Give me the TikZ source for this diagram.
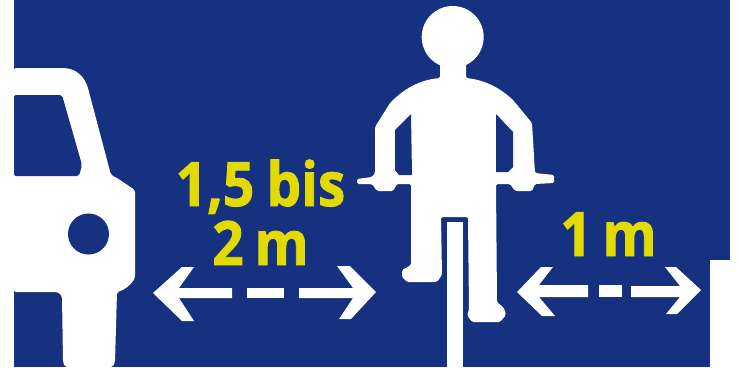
\documentclass[tikz,border=0pt]{standalone}
\usepackage{fontspec}
\setmainfont{Open Sans}[BoldFont={Open Sans Bold},BoldFeatures={FakeStretch=0.9,FakeBold=1.5}]
\definecolor{signblue}{HTML}{15317F}
\definecolor{signyellow}{HTML}{E2DA00}
\tikzset{
  wh/.style={fill=white,draw=none},
  bl/.style={fill=signblue,draw=none},
  lab/.style={text=signyellow,font=\bfseries\fontsize{61}{61}\selectfont,inner sep=0pt,anchor=base}
}
\begin{document}
\begin{tikzpicture}[x=1pt,y=-1pt]
\useasboundingbox (0,0) rectangle (739,367);
\fill[white] (0,0) rectangle (739,367);
\fill[signblue] (14,0) rectangle (730,367);
\fill[white] (710,260) rectangle (730,367);
% car
\path[wh,rounded corners=2pt] (14,68) -- (60,68) .. controls (76,68) and (85,76) .. (89,92) -- (111,175) -- (117,178) -- (135,190) -- (135,278) .. controls (130,286) and (124,290) .. (117,292) -- (115,362) -- (113,367) -- (65,367) -- (63,362) -- (62,296) -- (58,292) -- (14,292) -- cycle;
\path[bl,rounded corners=2pt] (14,95) -- (62,95) -- (82,165) -- (79,176) -- (14,176) -- cycle;
\path[bl] (88.5,234) circle (20.5);
% cyclist
\path[wh] (452.7,37) circle (31);
\path[wh,rounded corners=1.5pt] (440,55) -- (440,78) .. controls (420,80) and (405,88) .. (390,103) -- (375,127) -- (375,173) -- (372,177) -- (357,179) -- (357,184) -- (372,184) -- (377,191) -- (393,191) -- (397,184) -- (411,184) -- (411,265) -- (402,270) -- (402,277) -- (407,282) -- (437,282) -- (442,275) -- (441,217) -- (468,217) -- (469,310) -- (467,315) -- (472,322) -- (500,322) -- (506,315) -- (504,308) -- (497,302) -- (496,184) -- (510,184) -- (515,191) -- (532,191) -- (535,184) -- (554,183) -- (554,175) -- (535,173) -- (532,123) -- (513,100) .. controls (500,88) and (485,80) .. (466,78) -- (466,55) -- cycle;
\path[bl] (411,114) -- (395,130) -- (395,170) -- (399,175) -- (412,175) -- cycle;
\path[bl] (496,114) -- (513,132) -- (513,167) -- (508,172) -- (496,172) -- cycle;
\path[wh] (447,222) rectangle (463,367);
% left arrows
\path[wh] (153,293) -- (182,267) -- (194,267) -- (179,288) -- (232,288) -- (232,298) -- (179,298) -- (194,321) -- (182,321) -- cycle;
\path[wh] (247,288) rectangle (284,298);
\path[wh] (376,292) -- (350,266) -- (337,266) -- (353,288) -- (299,288) -- (299,298) -- (353,298) -- (339,319) -- (351,319) -- cycle;
% right arrows
\path[wh] (517,292) -- (541,267) -- (553,267) -- (539,285) -- (588,285) -- (588,297) -- (539,297) -- (555,316) -- (542,316) -- cycle;
\path[wh] (599,285) rectangle (622,297);
\path[wh] (701,290) -- (676,267) -- (665,267) -- (680,286) -- (631,286) -- (631,297) -- (680,297) -- (666,314) -- (677,314) -- cycle;
% labels
\node[lab] (t1) at (260.5,206) {1,5\hspace{.2em}bis};
\node[lab] (t2) at (260.5,265) {2\hspace{.18em}m};
\node[lab] (t3) at (608.5,256) {1\hspace{.18em}m};
\end{tikzpicture}
\end{document}
